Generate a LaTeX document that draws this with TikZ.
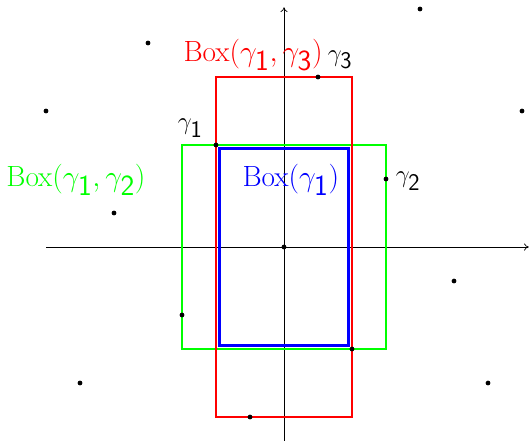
\documentclass[tikz,border=0pt]{standalone}
\usetikzlibrary{arrows.meta}
\begin{document}
\begin{tikzpicture}[x=1cm,y=1cm,
  dot/.style={circle,fill=black,inner sep=0pt,minimum size=4pt},
  axis/.style={line width=0.6pt,-{To[length=4pt,width=6pt]}},
  boxline/.style={line width=2.2pt},
  lbl/.style={font=\fontsize{24.5}{28}\selectfont,inner sep=0pt},
  glbl/.style={font=\fontsize{20}{24}\selectfont,inner sep=0pt}]
\useasboundingbox (-8.353,-5.735) rectangle (7.235,7.265);
\newcommand{\sub}[1]{_{\textsf{#1}}}
% axes
\coordinate (xl) at (-7,0); \coordinate (xr) at (7.2,0);
\coordinate (yb) at (0,-5.7); \coordinate (yt) at (0,7.05);
\draw[axis] (xl) -- (xr);
\draw[axis] (yb) -- (yt);
% boxes
\draw[boxline,green] (-3,-3) rectangle (3,3);
\draw[boxline,red] (-2,-5) rectangle (2,5);
\draw[boxline,blue] (-1.9,-2.9) rectangle (1.9,2.9);
% dots
\foreach \p/\n in {(4,7)/a,(-4,6)/b,(1,5)/g3,(-7,4)/c,(7,4)/d,(-2,3)/g1,(3,2)/g2,(-5,1)/e,(0,0)/o,(5,-1)/f,(-3,-2)/g,(2,-3)/h,(-6,-4)/i,(6,-4)/j,(-1,-5)/k}
  \node[dot] (\n) at \p {};
% labels
\node[lbl,red] (lr) at (-0.91,5.65) {Box$(\gamma\sub{1},\gamma\sub{3})$};
\node[lbl,green] (lg) at (-6.12,1.97) {Box$(\gamma\sub{1},\gamma\sub{2})$};
\node[lbl,blue] (lb) at (0.2,1.97) {Box$(\gamma\sub{1})$};
\node[glbl] (t1) at (-2.76,3.5) {$\gamma\sub{1}$};
\node[glbl] (t2) at (3.65,1.94) {$\gamma\sub{2}$};
\node[glbl] (t3) at (1.65,5.5) {$\gamma\sub{3}$};
\end{tikzpicture}
\end{document}
